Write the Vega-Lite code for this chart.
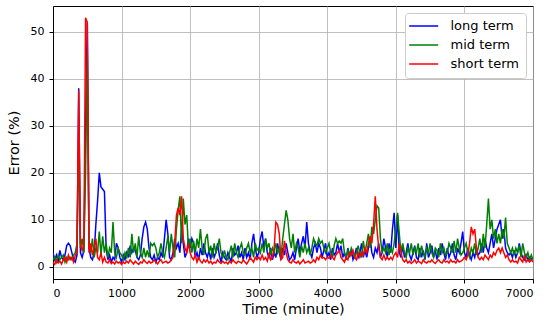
{
"$schema": "https://vega.github.io/schema/vega-lite/v6.json",
"width": 480, "height": 273,
"autosize": {"type": "none"},
"padding": {"left": 53, "top": 6, "right": 19, "bottom": 44},
"config": {"font": "DejaVu Sans", "view": {"stroke": "#000000", "strokeWidth": 1}},
"data": {"values": [
{"t":0,"l":3,"m":1.5,"s":1},{"t":25,"l":1.5,"m":2,"s":0.5},{"t":50,"l":2.5,"m":1,"s":1.5},{"t":75,"l":1,"m":2.5,"s":0.8},{"t":100,"l":3.5,"m":1.5,"s":1.2},{"t":125,"l":2,"m":2,"s":0.6},{"t":150,"l":1.5,"m":2.5,"s":1.5},{"t":175,"l":2.5,"m":1,"s":2},{"t":200,"l":4.5,"m":2,"s":1},{"t":225,"l":5,"m":1.5,"s":2.5},
{"t":250,"l":4.5,"m":2,"s":1.5},{"t":275,"l":3,"m":1.5,"s":2},{"t":300,"l":1.5,"m":2.5,"s":1},{"t":325,"l":1,"m":3,"s":2.5},{"t":350,"l":2.5,"m":5,"s":3},{"t":375,"l":38,"m":28,"s":37.5},{"t":400,"l":3,"m":4,"s":5},{"t":425,"l":2,"m":6,"s":3.5},{"t":450,"l":3.5,"m":3,"s":4.5},{"t":475,"l":30,"m":20,"s":53},
{"t":500,"l":52,"m":46,"s":52},{"t":525,"l":4,"m":5,"s":3},{"t":550,"l":2,"m":3,"s":5},{"t":575,"l":1.5,"m":6,"s":2.5},{"t":600,"l":3,"m":2,"s":4},{"t":625,"l":9,"m":4,"s":6},{"t":650,"l":14,"m":3,"s":2},{"t":675,"l":20,"m":7.5,"s":1.5},{"t":700,"l":17,"m":2.5,"s":3},{"t":725,"l":16.5,"m":6.5,"s":1},
{"t":750,"l":16,"m":3,"s":2},{"t":775,"l":4,"m":5,"s":1},{"t":800,"l":1.5,"m":2,"s":0.8},{"t":825,"l":2.5,"m":4,"s":1.5},{"t":850,"l":1,"m":3,"s":0.7},{"t":875,"l":2,"m":9.5,"s":1},{"t":900,"l":1.5,"m":3,"s":0.6},{"t":925,"l":5,"m":2,"s":1.2},{"t":950,"l":4,"m":4,"s":0.8},{"t":975,"l":2,"m":3,"s":1},
{"t":1000,"l":1,"m":2.5,"s":0.5},{"t":1025,"l":2.5,"m":1.5,"s":1},{"t":1050,"l":1.5,"m":3,"s":0.7},{"t":1075,"l":3,"m":2,"s":1.2},{"t":1100,"l":2,"m":4,"s":0.8},{"t":1125,"l":4.5,"m":2,"s":1.5},{"t":1150,"l":3,"m":7,"s":1},{"t":1175,"l":4,"m":3,"s":0.6},{"t":1200,"l":3.5,"m":5,"s":1.2},{"t":1225,"l":2,"m":2,"s":0.8},
{"t":1250,"l":1.5,"m":6.5,"s":0.5},{"t":1275,"l":2.5,"m":3,"s":1},{"t":1300,"l":6,"m":2,"s":0.8},{"t":1325,"l":8.5,"m":4,"s":1.5},{"t":1350,"l":9.5,"m":2,"s":1},{"t":1375,"l":8,"m":3.5,"s":0.7},{"t":1400,"l":4,"m":2,"s":1.2},{"t":1425,"l":2,"m":5,"s":0.8},{"t":1450,"l":1.5,"m":4.5,"s":1},{"t":1475,"l":2.5,"m":5,"s":1.5},
{"t":1500,"l":1,"m":4,"s":1},{"t":1525,"l":2,"m":2,"s":0.6},{"t":1550,"l":1.5,"m":3,"s":1.2},{"t":1575,"l":3,"m":5,"s":1.5},{"t":1600,"l":2,"m":3,"s":0.8},{"t":1625,"l":6,"m":2,"s":1},{"t":1650,"l":10,"m":4,"s":1.2},{"t":1675,"l":7,"m":6.5,"s":0.8},{"t":1700,"l":2,"m":3,"s":1},{"t":1725,"l":1.5,"m":7,"s":1.5},
{"t":1750,"l":3,"m":4,"s":2},{"t":1775,"l":6,"m":2,"s":5},{"t":1800,"l":4,"m":8,"s":11},{"t":1825,"l":5,"m":12,"s":12.5},{"t":1850,"l":3,"m":15,"s":11},{"t":1875,"l":8,"m":5,"s":15},{"t":1900,"l":5,"m":14.5,"s":6},{"t":1925,"l":2,"m":9,"s":4},{"t":1950,"l":3,"m":11,"s":3},{"t":1975,"l":6,"m":4,"s":5},
{"t":2000,"l":4,"m":6,"s":3},{"t":2025,"l":6,"m":3,"s":2},{"t":2050,"l":5,"m":5.5,"s":1.5},{"t":2075,"l":2,"m":3,"s":2.5},{"t":2100,"l":3,"m":6,"s":1},{"t":2125,"l":1.5,"m":4,"s":2},{"t":2150,"l":4,"m":8,"s":1.2},{"t":2175,"l":2.5,"m":4,"s":0.8},{"t":2200,"l":5,"m":2.5,"s":1.5},{"t":2225,"l":3,"m":6,"s":1},
{"t":2250,"l":2,"m":7,"s":1.5},{"t":2275,"l":3.5,"m":3,"s":0.8},{"t":2300,"l":1.5,"m":4.5,"s":1.2},{"t":2325,"l":4,"m":2,"s":0.6},{"t":2350,"l":2,"m":5,"s":1},{"t":2375,"l":3,"m":3,"s":0.8},{"t":2400,"l":5,"m":4,"s":1.5},{"t":2425,"l":2.5,"m":6,"s":1},{"t":2450,"l":1,"m":3,"s":0.7},{"t":2475,"l":3,"m":2,"s":1.2},
{"t":2500,"l":2,"m":3.5,"s":0.8},{"t":2525,"l":1.5,"m":2,"s":1},{"t":2550,"l":3,"m":1.5,"s":0.6},{"t":2575,"l":2,"m":3,"s":1.2},{"t":2600,"l":1,"m":4.5,"s":0.8},{"t":2625,"l":4,"m":2,"s":1.5},{"t":2650,"l":2.5,"m":5,"s":1},{"t":2675,"l":3,"m":3,"s":0.7},{"t":2700,"l":4.5,"m":2,"s":1.2},{"t":2725,"l":2,"m":4,"s":1},
{"t":2750,"l":3,"m":5,"s":0.8},{"t":2775,"l":1.5,"m":3,"s":1.5},{"t":2800,"l":4,"m":2.5,"s":1},{"t":2825,"l":2,"m":4,"s":0.6},{"t":2850,"l":3,"m":5,"s":1.2},{"t":2875,"l":1.5,"m":3,"s":2},{"t":2900,"l":5,"m":4,"s":1.5},{"t":2925,"l":7,"m":2,"s":1},{"t":2950,"l":4,"m":5,"s":2},{"t":2975,"l":2,"m":3.5,"s":1.5},
{"t":3000,"l":3,"m":4,"s":2},{"t":3025,"l":6,"m":3,"s":1.5},{"t":3050,"l":7.5,"m":5,"s":2.5},{"t":3075,"l":4,"m":3,"s":1.5},{"t":3100,"l":6,"m":6,"s":2},{"t":3125,"l":3,"m":4,"s":1.2},{"t":3150,"l":2,"m":5,"s":3},{"t":3175,"l":4,"m":2.5,"s":1.5},{"t":3200,"l":1.5,"m":4,"s":2},{"t":3225,"l":3,"m":3,"s":4},
{"t":3250,"l":2,"m":5,"s":9.5},{"t":3275,"l":5,"m":3,"s":9},{"t":3300,"l":3,"m":4,"s":7},{"t":3325,"l":1.5,"m":2,"s":1.5},{"t":3350,"l":4,"m":6,"s":2},{"t":3375,"l":2.5,"m":9,"s":5.5},{"t":3400,"l":5,"m":12,"s":3},{"t":3425,"l":3,"m":10,"s":1.5},{"t":3450,"l":1.5,"m":6,"s":1},{"t":3475,"l":2,"m":4,"s":0.8},
{"t":3500,"l":3,"m":7,"s":1.5},{"t":3525,"l":1.5,"m":3,"s":1},{"t":3550,"l":4,"m":5,"s":0.8},{"t":3575,"l":6,"m":4,"s":1.2},{"t":3600,"l":3,"m":2,"s":0.6},{"t":3625,"l":5,"m":4.5,"s":1},{"t":3650,"l":6.5,"m":3,"s":1.5},{"t":3675,"l":4,"m":5,"s":0.8},{"t":3700,"l":9.5,"m":3,"s":1},{"t":3725,"l":5,"m":4,"s":1.2},
{"t":3750,"l":3,"m":2.5,"s":0.8},{"t":3775,"l":2,"m":4,"s":1},{"t":3800,"l":4,"m":6,"s":1.5},{"t":3825,"l":5,"m":5,"s":1},{"t":3850,"l":3,"m":4.5,"s":2},{"t":3875,"l":5,"m":6,"s":1.5},{"t":3900,"l":4,"m":5,"s":2.5},{"t":3925,"l":2,"m":5.5,"s":1.8},{"t":3950,"l":3.5,"m":4,"s":2},{"t":3975,"l":5,"m":3,"s":1.5},
{"t":4000,"l":2,"m":4,"s":2},{"t":4025,"l":3,"m":5,"s":1.8},{"t":4050,"l":1.5,"m":3,"s":2.5},{"t":4075,"l":4,"m":2,"s":2},{"t":4100,"l":2.5,"m":4.5,"s":1.5},{"t":4125,"l":3,"m":6,"s":2.5},{"t":4150,"l":5,"m":5,"s":3},{"t":4175,"l":3,"m":5.5,"s":3.5},{"t":4200,"l":4.5,"m":5,"s":2},{"t":4225,"l":2,"m":6,"s":1.5},
{"t":4250,"l":3,"m":3,"s":1},{"t":4275,"l":1.5,"m":2,"s":2},{"t":4300,"l":4,"m":3.5,"s":1.5},{"t":4325,"l":2,"m":2.5,"s":3},{"t":4350,"l":3.5,"m":4,"s":2.5},{"t":4375,"l":1.5,"m":3,"s":3.5},{"t":4400,"l":2.5,"m":2,"s":2},{"t":4425,"l":4,"m":3,"s":1.5},{"t":4450,"l":2,"m":4.5,"s":3},{"t":4475,"l":3,"m":3,"s":2},
{"t":4500,"l":5,"m":2,"s":3},{"t":4525,"l":2,"m":5.5,"s":2.5},{"t":4550,"l":3.5,"m":3,"s":4},{"t":4575,"l":2,"m":5,"s":3},{"t":4600,"l":4,"m":7,"s":5},{"t":4625,"l":6,"m":4,"s":6.5},{"t":4650,"l":3,"m":8.5,"s":5},{"t":4675,"l":2,"m":7,"s":9},{"t":4700,"l":4,"m":10,"s":15},{"t":4725,"l":3,"m":13,"s":8},
{"t":4750,"l":5,"m":12.5,"s":4},{"t":4775,"l":2,"m":6,"s":2},{"t":4800,"l":3,"m":3,"s":1.5},{"t":4825,"l":6,"m":4,"s":2.5},{"t":4850,"l":4,"m":3,"s":1.5},{"t":4875,"l":2,"m":5,"s":2},{"t":4900,"l":5,"m":2.5,"s":1.5},{"t":4925,"l":3,"m":4,"s":2},{"t":4950,"l":8,"m":3,"s":1.5},{"t":4975,"l":11.5,"m":5,"s":2.5},
{"t":5000,"l":4,"m":8,"s":3},{"t":5025,"l":11,"m":11.5,"s":2},{"t":5050,"l":3,"m":7,"s":5},{"t":5075,"l":2,"m":3,"s":3},{"t":5100,"l":4.5,"m":5,"s":1.5},{"t":5125,"l":2,"m":3,"s":1},{"t":5150,"l":3,"m":2,"s":1.5},{"t":5175,"l":5,"m":4,"s":0.8},{"t":5200,"l":2.5,"m":3,"s":1.2},{"t":5225,"l":1.5,"m":5,"s":0.7},
{"t":5250,"l":3,"m":2.5,"s":1},{"t":5275,"l":4.5,"m":4,"s":1.5},{"t":5300,"l":2,"m":3,"s":0.8},{"t":5325,"l":1.5,"m":5,"s":1.2},{"t":5350,"l":4,"m":2,"s":1},{"t":5375,"l":2,"m":4.5,"s":0.7},{"t":5400,"l":3.5,"m":3,"s":1.5},{"t":5425,"l":1.5,"m":2,"s":1},{"t":5450,"l":5,"m":4,"s":0.8},{"t":5475,"l":2,"m":3,"s":1.2},
{"t":5500,"l":3,"m":5,"s":1},{"t":5525,"l":4.5,"m":3,"s":1.5},{"t":5550,"l":2,"m":2,"s":1},{"t":5575,"l":3.5,"m":4,"s":0.7},{"t":5600,"l":1.5,"m":3.5,"s":1.2},{"t":5625,"l":4,"m":2,"s":1.5},{"t":5650,"l":2.5,"m":5,"s":1},{"t":5675,"l":5,"m":3,"s":0.8},{"t":5700,"l":3,"m":4,"s":1.5},{"t":5725,"l":1.5,"m":2.5,"s":1},
{"t":5750,"l":4,"m":3,"s":1.2},{"t":5775,"l":2,"m":5,"s":0.8},{"t":5800,"l":3,"m":4,"s":1.5},{"t":5825,"l":5,"m":3,"s":1},{"t":5850,"l":2.5,"m":5.5,"s":1.2},{"t":5875,"l":1.5,"m":3,"s":0.8},{"t":5900,"l":4,"m":6,"s":1.5},{"t":5925,"l":3,"m":4,"s":1},{"t":5950,"l":5,"m":2.5,"s":1.2},{"t":5975,"l":7.5,"m":3,"s":1.5},
{"t":6000,"l":3,"m":4,"s":2},{"t":6025,"l":2,"m":5,"s":1.5},{"t":6050,"l":4,"m":3,"s":2.5},{"t":6075,"l":2.5,"m":2,"s":5},{"t":6100,"l":1.5,"m":4,"s":8.5},{"t":6125,"l":3,"m":3,"s":7},{"t":6150,"l":2,"m":5,"s":8},{"t":6175,"l":4,"m":2.5,"s":4},{"t":6200,"l":2.5,"m":4,"s":2},{"t":6225,"l":3,"m":6,"s":1.5},
{"t":6250,"l":5,"m":3,"s":2},{"t":6275,"l":3,"m":7,"s":1.5},{"t":6300,"l":6,"m":4,"s":2.5},{"t":6325,"l":4,"m":9,"s":2},{"t":6350,"l":3,"m":14.5,"s":1.5},{"t":6375,"l":5,"m":8,"s":2.5},{"t":6400,"l":7,"m":10,"s":2},{"t":6425,"l":4,"m":6,"s":3},{"t":6450,"l":6,"m":8,"s":2.5},{"t":6475,"l":8,"m":5,"s":3.5},
{"t":6500,"l":9,"m":7,"s":4},{"t":6525,"l":10,"m":5,"s":3},{"t":6550,"l":6,"m":8,"s":4},{"t":6575,"l":8,"m":6,"s":3},{"t":6600,"l":4,"m":10.5,"s":2},{"t":6625,"l":3,"m":5,"s":2.5},{"t":6650,"l":2.5,"m":4,"s":1.5},{"t":6675,"l":3,"m":3,"s":1},{"t":6700,"l":2,"m":4,"s":1.5},{"t":6725,"l":3.5,"m":2.5,"s":1},
{"t":6750,"l":2,"m":4,"s":1.2},{"t":6775,"l":3,"m":3,"s":0.8},{"t":6800,"l":5,"m":4.5,"s":2},{"t":6825,"l":3,"m":2,"s":1.5},{"t":6850,"l":2,"m":5,"s":1},{"t":6875,"l":1.5,"m":3,"s":2.5},{"t":6900,"l":2.5,"m":2,"s":1},{"t":6925,"l":1.5,"m":3,"s":1.5},{"t":6950,"l":2,"m":1.5,"s":1},{"t":6975,"l":1.5,"m":2.5,"s":1.5},{"t":7000,"l":2,"m":1.5,"s":1}
]},
"transform": [{"fold": ["l", "m", "s"], "as": ["series", "value"]}],
"mark": {"type": "line", "strokeWidth": 1.5, "clip": true},
"encoding": {
  "x": {"field": "t", "type": "quantitative",
    "scale": {"domain": [0, 7000], "nice": false, "zero": false},
    "axis": {"title": "Time (minute)", "values": [0,1000,2000,3000,4000,5000,6000,7000], "format": "d",
      "grid": true, "gridColor": "#b0b0b0", "gridWidth": 0.8, "domainColor": "#000000", "tickColor": "#000000", "tickSize": 4,
      "labelFontSize": 11, "labelColor": "#000000", "labelPadding": 4, "titleFontSize": 14.5, "titleFontWeight": "normal", "titleColor": "#000000", "titlePadding": 4}},
  "y": {"field": "value", "type": "quantitative",
    "scale": {"domain": [-2.6, 55.5], "nice": false, "zero": false},
    "axis": {"title": "Error (%)", "values": [0,10,20,30,40,50], "format": "d",
      "grid": true, "gridColor": "#b0b0b0", "gridWidth": 0.8, "domainColor": "#000000", "tickColor": "#000000", "tickSize": 4,
      "labelFontSize": 11, "labelColor": "#000000", "labelPadding": 5, "titleFontSize": 14.5, "titleFontWeight": "normal", "titleColor": "#000000", "titlePadding": 9}},
  "color": {"field": "series", "type": "nominal",
    "scale": {"domain": ["l", "m", "s"], "range": ["#0000ff", "#008000", "#ff0000"]},
    "legend": {"title": null, "orient": "top-right", "offset": 7,
      "labelExpr": "{'l':'long term','m':'mid term','s':'short term'}[datum.label]",
      "symbolType": "M-1.76,0L4.04,0", "symbolSize": 100, "symbolStrokeWidth": 1.5, "symbolFillColor": "transparent", "labelFontSize": 13, "labelColor": "#000000",
      "labelOffset": 26, "rowPadding": 5, "padding": 6.5, "fillColor": "#ffffff", "strokeColor": "#cccccc", "cornerRadius": 3}}
}
}
